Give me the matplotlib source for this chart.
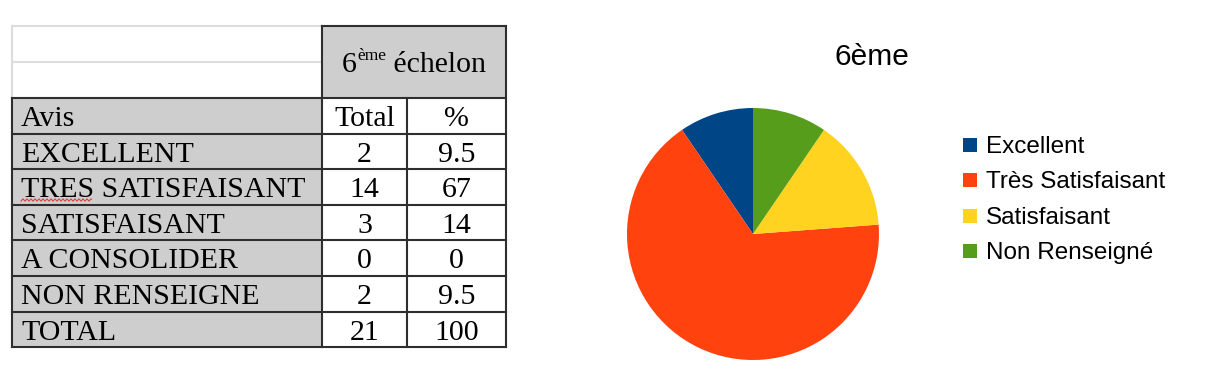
import numpy as np
import matplotlib
matplotlib.use("Agg")
import matplotlib.pyplot as plt
from matplotlib.patches import Rectangle

# table data
avis = ["EXCELLENT", "TRES SATISFAISANT", "SATISFAISANT", "A CONSOLIDER",
        "NON RENSEIGNE", "TOTAL"]
totaux = ["2", "14", "3", "0", "2", "21"]
pourcents = ["9.5", "67", "14", "0", "9.5", "100"]

# pie data (A CONSOLIDER = 0 is not shown)
pie_labels = ["Excellent", "Très Satisfaisant", "Satisfaisant", "Non Renseigné"]
pie_values = [2, 14, 3, 2]
pie_colors = ["#004586", "#ff420e", "#ffd320", "#579d1c"]

W, H = 1215, 383
fig = plt.figure(figsize=(W / 100, H / 100), dpi=100)
ax = fig.add_axes([0, 0, 1, 1])
ax.set_xlim(0, W)
ax.set_ylim(H, 0)
ax.axis("off")

serif = "Liberation Serif"
sans = "Liberation Sans"
fs = 21.5
gray = "#cfcece"
dark = "#2e2e2e"
light = "#dcdcdc"

col_x = [12, 322, 407, 506]
top, mid, head_bottom = 26, 62, 98
row_h = 35.6
n_rows = len(avis) + 1
row_y = [head_bottom + i * row_h for i in range(n_rows + 1)]
bottom = row_y[-1]

# fills
ax.add_patch(Rectangle((col_x[0], head_bottom), col_x[1] - col_x[0], bottom - head_bottom,
                       facecolor=gray, edgecolor="none"))
ax.add_patch(Rectangle((col_x[1], top), col_x[3] - col_x[1], head_bottom - top,
                       facecolor=gray, edgecolor="none"))

# light borders of the empty top-left block
for y in (top, mid):
    ax.plot([col_x[0], col_x[1]], [y, y], color=light, lw=1.5, solid_capstyle="butt")
ax.plot([col_x[0], col_x[0]], [top, head_bottom], color=light, lw=1.5)

# dark grid
ax.plot([col_x[1], col_x[3]], [top, top], color=dark, lw=1.5)
for y in row_y:
    ax.plot([col_x[0], col_x[3]], [y, y], color=dark, lw=1.5)
for x in (col_x[1], col_x[3]):
    ax.plot([x, x], [top, bottom], color=dark, lw=1.5)
for x in (col_x[0], col_x[2]):
    ax.plot([x, x], [head_bottom, bottom], color=dark, lw=1.5)

# cell text
c_tot = (col_x[1] + col_x[2]) / 2
c_pct = (col_x[2] + col_x[3]) / 2
first = ["Avis"] + avis
col2 = ["Total"] + totaux
col3 = ["%"] + pourcents
for i in range(n_rows):
    yb = row_y[i + 1] - 7.5
    ax.text(21, yb, first[i], fontsize=fs, family=serif, va="baseline", ha="left")
    ax.text(c_tot, yb, col2[i], fontsize=fs, family=serif, va="baseline", ha="center")
    ax.text(c_pct, yb, col3[i], fontsize=fs, family=serif, va="baseline", ha="center")

# spell-check squiggle under TRES
xs = np.arange(21, 92, 0.5)
ax.plot(xs, 200 + 1.1 * np.sin(xs * 2 * np.pi / 4), color="#e03030", lw=0.7)

# header "6ème échelon" with superscript
fig.canvas.draw()
r = fig.canvas.get_renderer()
parts = [("6", fs, 0), ("ème", fs * 0.58, -12), (" échelon", fs, 0)]
texts = [ax.text(0, 72 + dy, s, fontsize=f, family=serif, va="baseline", ha="left")
         for s, f, dy in parts]
widths = [t.get_window_extent(r).width for t in texts]
x = (col_x[1] + col_x[3]) / 2 - sum(widths) / 2
for t, w, (s, f, dy) in zip(texts, widths, parts):
    t.set_position((x, 72 + dy))
    x += w

# pie
cx, cy, rad = 753, 234, 126
ax_pie = fig.add_axes([(cx - rad) / W, (H - cy - rad) / H, 2 * rad / W, 2 * rad / H])
ax_pie.pie(pie_values, colors=pie_colors, startangle=90, counterclock=True,
           wedgeprops=dict(linewidth=0))
ax_pie.set_xlim(-1, 1)
ax_pie.set_ylim(-1, 1)
ax_pie.patch.set_alpha(0)

ax.text(872, 57, "6ème", fontsize=21.5, family=sans, ha="center", va="center")

# legend
for i, (lab, col) in enumerate(zip(pie_labels, pie_colors)):
    yc = 145 + i * 35.3
    ax.add_patch(Rectangle((963, yc - 7), 14, 14, facecolor=col, edgecolor="none"))
    ax.text(986, yc + 8, lab, fontsize=17.5, family=sans, va="baseline", ha="left")

fig.savefig("out.png", dpi=100)
